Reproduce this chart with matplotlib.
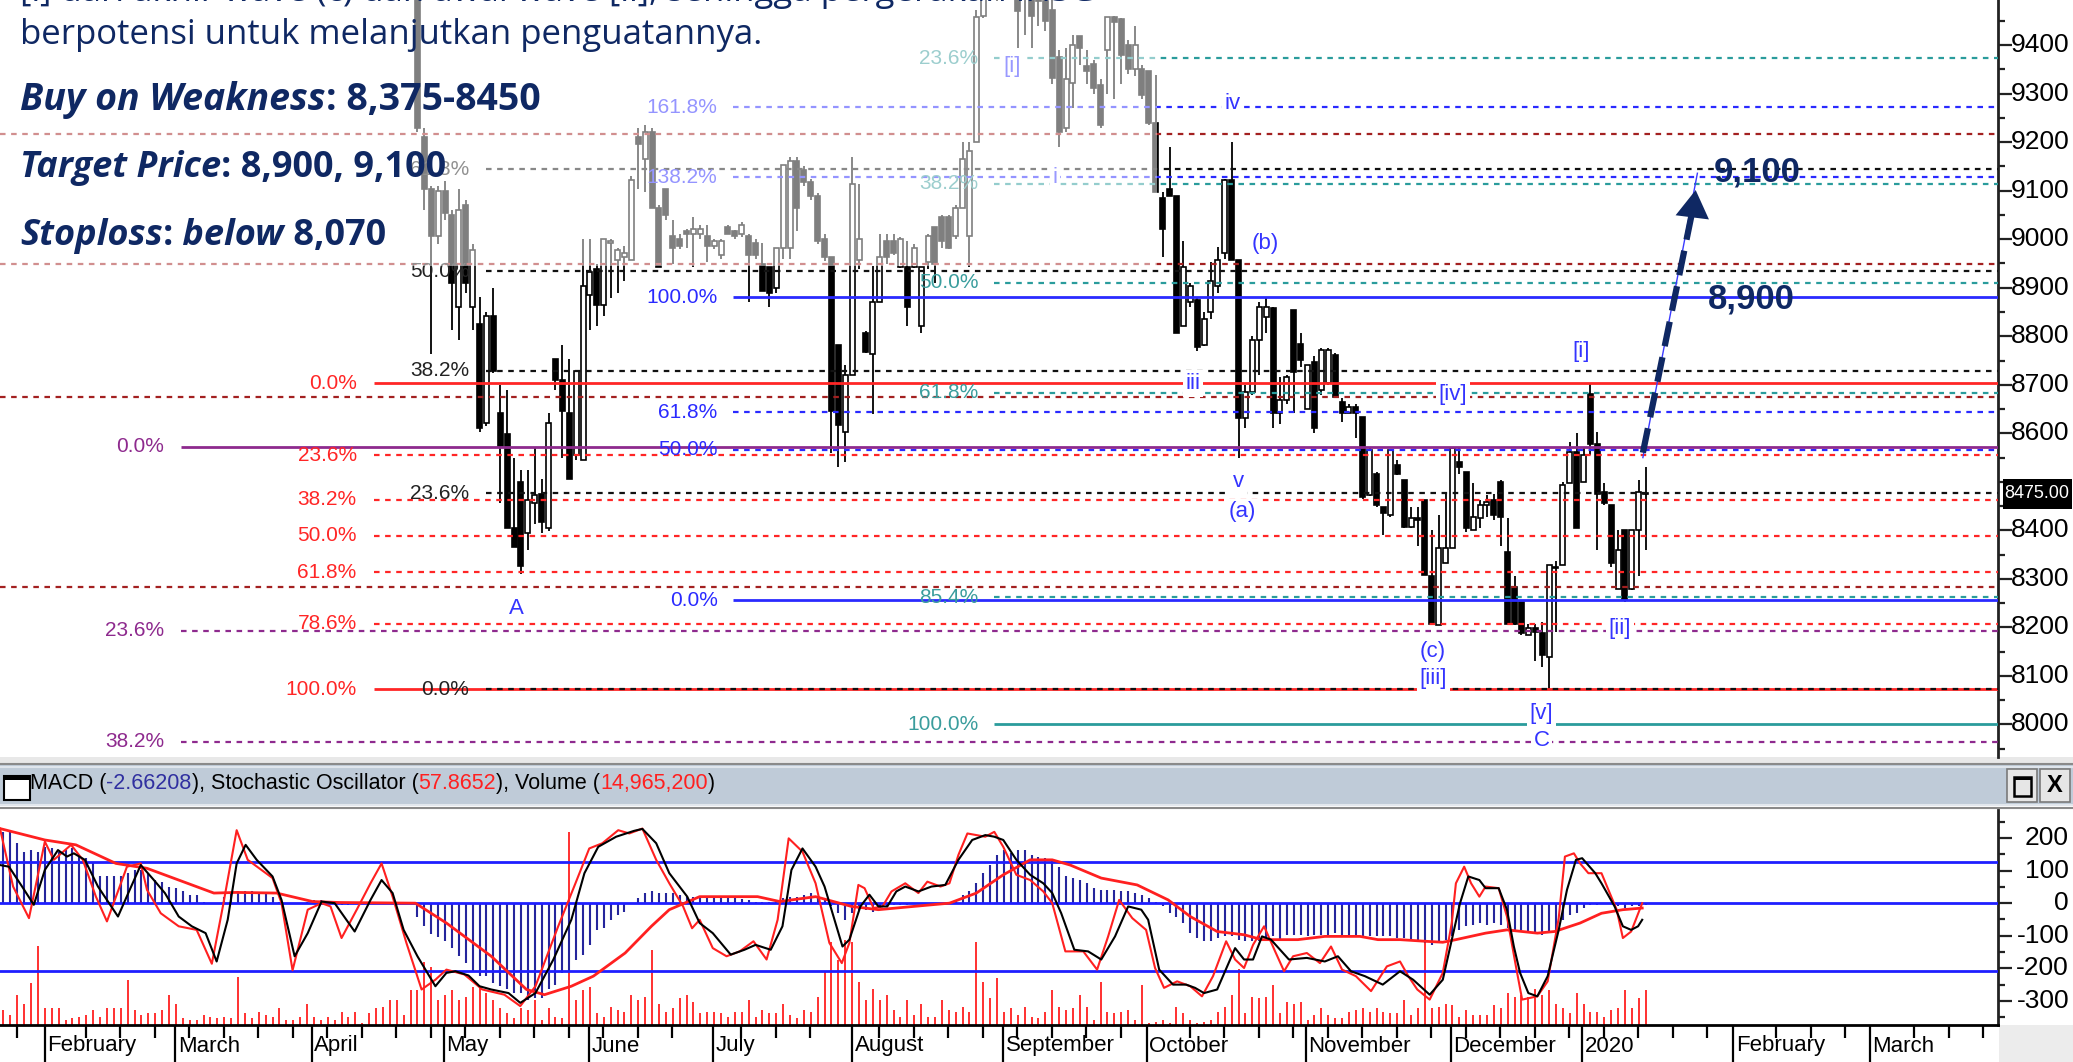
import matplotlib
matplotlib.use('Agg')
import matplotlib.pyplot as plt
from matplotlib.patches import Rectangle, FancyArrowPatch
from matplotlib.transforms import blended_transform_factory
import numpy as np

# ---------------- DATA ----------------
# daily candles (first candle is bar #60 of the chart)
CANDLE_START = 60
opens = [9560, 9210, 9103, 9006, 9100, 9050, 8860, 9070, 8860, 8826, 8622, 8841, 8642, 8598, 8404, 8500,
         8394, 8457, 8476, 8404, 8754, 8710, 8642, 8555, 8545, 8885, 8938, 8865, 8992, 8958, 8963, 8958,
         9210, 9166, 9220, 9065, 9103, 9006, 9001, 9016, 9011, 9011, 9006, 8987, 8968, 9026, 9016, 9011,
         9006, 8992, 8948, 8943, 8899, 8982, 8982, 9162, 9142, 9118, 9089, 9001, 8963, 8783,
         8603, 8720, 8958, 8807, 8763, 8870, 8997, 8997, 8943, 8943, 8943, 8822, 8953, 9026, 9045, 9045,
         9006, 9065, 9006, 9201, 9460, 9560, 9620, 9580, 9600, 9560, 9520, 9500, 9520, 9490, 9473, 9376,
         9230, 9322, 9419, 9356, 9361, 9317, 9390, 9458, 9453, 9400, 9351, 9351, 9346, 9240, 9084, 9103,
         9089, 8822, 8870, 8875, 8783, 8850, 8904, 8972, 9123, 8958, 8632, 8685, 8792, 8840,
         8858, 8641, 8669, 8854, 8785, 8651, 8748, 8689, 8703, 8761, 8665, 8641, 8655, 8634, 8473, 8517,
         8449, 8432, 8535, 8504, 8407, 8425, 8463, 8305, 8205, 8332, 8363, 8540, 8521, 8401, 8425, 8452,
         8463, 8500, 8356, 8284, 8253, 8184, 8198, 8188, 8140, 8322, 8329, 8497, 8562, 8500, 8682, 8579,
         8480, 8452, 8280, 8401, 8280, 8401, 8476]
highs = [9600, 9230, 9110, 9110, 9120, 9060, 9103, 9080, 8990, 8880, 8850, 8900, 8700, 8690, 8550, 8525,
         8525, 8569, 8506, 8642, 8754, 8783, 8754, 8729, 9001, 9001, 8948, 9001, 9001, 8982, 8987, 9130,
         9230, 9235, 9230, 9070, 9103, 9040, 9010, 9021, 9045, 9030, 9030, 9000, 9000, 9030, 9020, 9035,
         9011, 9000, 8992, 8943, 8982, 9152, 9170, 9170, 9150, 9125, 9095, 9010, 8963, 8783,
         8740, 9170, 9113, 8810, 8945, 9011, 9011, 9011, 9005, 8997, 8990, 8943, 9011, 9026, 9050, 9050,
         9070, 9201, 9201, 9473, 9600, 9650, 9680, 9640, 9660, 9600, 9560, 9540, 9560, 9520, 9500, 9390,
         9395, 9420, 9419, 9390, 9370, 9330, 9458, 9460, 9455, 9410, 9440, 9360, 9346, 9338, 9098, 9190,
         9089, 8997, 8910, 8880, 8850, 8953, 8985, 9125, 9201, 8958, 8700, 8800, 8870, 8880,
         8860, 8717, 8720, 8854, 8806, 8741, 8760, 8775, 8775, 8765, 8672, 8660, 8660, 8634, 8570, 8520,
         8449, 8566, 8545, 8504, 8449, 8449, 8463, 8401, 8432, 8480, 8569, 8569, 8521, 8497, 8463, 8473,
         8476, 8504, 8425, 8305, 8253, 8208, 8208, 8212, 8329, 8336, 8500, 8583, 8600, 8572, 8703, 8603,
         8497, 8452, 8401, 8401, 8401, 8504, 8531]
lows = [9220, 9060, 8763, 8990, 9040, 8812, 8792, 8890, 8812, 8602, 8615, 8724, 8457, 8404, 8365, 8311,
        8360, 8413, 8394, 8399, 8690, 8550, 8506, 8545, 8545, 8812, 8822, 8842, 8879, 8889, 8913, 8958,
        9103, 9098, 9065, 8943, 9040, 8948, 8980, 8982, 8943, 9000, 8953, 8980, 8960, 9011, 9000, 9005,
        8870, 8960, 8894, 8860, 8889, 8960, 8960, 9016, 9110, 9080, 8990, 8955, 8560, 8530,
        8540, 8720, 8939, 8765, 8640, 8870, 8948, 8967, 8940, 8822, 8940, 8807, 8938, 8909, 8982, 8980,
        9000, 9065, 8943, 9201, 9455, 9520, 9490, 9510, 9530, 9395, 9420, 9395, 9440, 9430, 9320, 9190,
        9220, 9270, 9360, 9320, 9300, 9230, 9300, 9290, 9320, 9340, 9337, 9290, 9235, 9098, 8963, 9089,
        8807, 8822, 8860, 8770, 8780, 8836, 8890, 8960, 8958, 8550, 8610, 8680, 8720, 8806,
        8610, 8620, 8660, 8641, 8737, 8651, 8600, 8680, 8700, 8675, 8624, 8641, 8590, 8465, 8470, 8448,
        8390, 8428, 8515, 8404, 8404, 8367, 8308, 8205, 8205, 8332, 8363, 8517, 8397, 8401, 8404, 8428,
        8421, 8367, 8208, 8205, 8184, 8184, 8130, 8119, 8073, 8191, 8329, 8497, 8404, 8500, 8555, 8360,
        8452, 8325, 8280, 8253, 8277, 8305, 8360]
closes = [9230, 9103, 9006, 9100, 9055, 8909, 9060, 8909, 8977, 8612, 8841, 8729, 8574, 8404, 8365, 8326,
          8462, 8472, 8418, 8622, 8710, 8647, 8506, 8729, 8904, 8933, 8865, 9001, 8997, 8977, 8972, 9123,
          9196, 9220, 9065, 8943, 9050, 8982, 8987, 9011, 9021, 9021, 8987, 8997, 8997, 9011, 9006, 9030,
          8968, 8968, 8894, 8889, 8982, 9152, 9162, 9065, 9118, 9089, 8997, 8963, 8647, 8617,
          8720, 9113, 9001, 8768, 8870, 8963, 8963, 8972, 9001, 8860, 8982, 8943, 9006, 8948, 8997, 8982,
          9065, 9166, 9181, 9458, 9560, 9620, 9580, 9600, 9560, 9470, 9500, 9460, 9490, 9450, 9332, 9220,
          9330, 9400, 9395, 9346, 9312, 9235, 9458, 9448, 9380, 9351, 9400, 9298, 9240, 9098, 9021, 9089,
          8807, 8943, 8904, 8778, 8836, 8914, 8958, 9123, 8958, 8632, 8685, 8792, 8860, 8861,
          8641, 8669, 8717, 8727, 8751, 8741, 8610, 8772, 8772, 8675, 8641, 8655, 8641, 8469, 8566, 8452,
          8435, 8566, 8517, 8407, 8425, 8421, 8308, 8208, 8363, 8363, 8569, 8530, 8404, 8428, 8452, 8459,
          8432, 8428, 8208, 8208, 8188, 8198, 8191, 8143, 8329, 8325, 8494, 8562, 8404, 8555, 8579, 8476,
          8456, 8332, 8360, 8256, 8401, 8480, 8475]
last_price = 8475.00

# Fibonacci tool levels (price) and their labels
red_fib_levels = [8703, 8555, 8463, 8389, 8314, 8208, 8073]
red_fib_labels = ['0.0%', '23.6%', '38.2%', '50.0%', '61.8%', '78.6%', '100.0%']
black_fib_levels = [8073, 8477, 8729, 8934, 9144]
black_fib_labels = ['0.0%', '23.6%', '38.2%', '50.0%', '61.8%']
blue_fib_levels = [8256, 8566, 8643, 8880, 9128, 9272]
blue_fib_labels = ['0.0%', '50.0%', '61.8%', '100.0%', '138.2%', '161.8%']
teal_fib_levels = [8000, 8262, 8684, 8910, 9114, 9373]
teal_fib_labels = ['100.0%', '85.4%', '61.8%', '50.0%', '38.2%', '23.6%']
purple_fib_levels = [8572, 8193, 7964]
purple_fib_labels = ['0.0%', '23.6%', '38.2%']
darkred_levels = [9217, 8948, 8675, 8283]

# indicator panel, one value per bar (bar 0 .. 238)
volume_h = [46, 31, 92, 66, 128, 243, 51, 51, 51, 15, 20, 26, 31, 46, 26, 51, 51, 51, 138, 46,
            31, 36, 36, 46, 92, 66, 20, 15, 15, 31, 26, 20, 26, 20, 148, 36, 20, 41, 31, 26,
            51, 15, 15, 26, 66, 26, 15, 26, 15, 41, 26, 41, 5, 36, 51, 56, 77, 77, 31, 107,
            107, 194, 179, 77, 92, 107, 77, 87, 117, 117, 97, 77, 51, 36, 20, 51, 46, 77, 15, 51,
            26, 20, 592, 77, 107, 117, 36, 26, 56, 46, 41, 92, 77, 87, 230, 66, 41, 51, 82, 92,
            71, 36,
            41, 41, 36, 26, 41, 41, 77, 26, 46, 36, 36, 66, 31, 20, 46, 41, 87, 163, 255, 199,
            260, 255, 133, 77, 112, 77, 92, 46, 26, 77, 31, 66, 26, 26, 77, 46, 41, 56, 41, 255,
            133, 82, 143, 41, 51, 31, 56, 26, 20, 41, 107, 56, 46, 51, 92, 56, 15, 133, 41, 36,
            41, 46, 15, 122, 5, 10, 15, 5, 56, 36, 15, 5, 10, 15, 41, 56, 92, 173, 36, 87,
            82, 87, 122, 36, 71, 66, 71, 15, 31, 51, 31, 20, 20, 41, 46, 51, 41, 51, 41, 36,
            36,
            77, 31, 51, 291, 51, 56, 66, 61, 26, 46, 31, 31, 31, 61, 51, 97, 87, 92, 87, 112,
            92, 107, 66, 51, 36, 97, 66, 41, 41, 26, 46, 51, 107, 51, 82, 107]
macd_hist = [219, 219, 184, 158, 163, 158, 173, 168, 158, 163, 168, 143, 138, 122, 82, 82, 82, 82, 92, 102,
             102, 92, 71, 66, 51, 46, 36, 26, 26, 5, 0, 0, 20, 31, 36, 36, 36, 31, 31, 20,
             5, 0, 0, 0, 5, 10, 10, 5, 5, -5, -5, 0, 0, 0, 0, 0, 0, 0, 0, 0,
             -41, -71, -95, -105, -117, -138, -163, -184, -209, -224, -224, -245, -255, -265, -276, -276, -296, -291, -291, -265,
             -250, -214, -209, -173, -158, -128, -82, -77, -51, -36, -26, 0, 15, 31, 36, 31, 31, 31, 26, 20,
             20, 15,
             15, 15, 15, 15, 15, 12, 10, 5, 5, 5, 5, 15, 20, 20, 26, 31, 20, 10, -10, -31,
             -51, -31, -20, -20, -26, -15, -10, -5, -5, -5, 0, 0, 0, 0, 0, 5, 10, 26, 36, 61,
             92, 117, 148, 163, 153, 163, 163, 148, 143, 138, 133, 112, 82, 77, 71, 61, 46, 41, 41, 41,
             36, 36, 31, 26, 15, 5, -10, -31, -41, -61, -92, -107, -117, -117, -107, -102, -102, -112, -117, -117,
             -117, -107, -102, -112, -97, -97, -97, -102, -97, -97, -97, -92, -97, -97, -97, -102, -102, -102, -102, -102,
             -107,
             -107, -112, -117, -122, -128, -117, -112, -102, -82, -71, -66, -61, -66, -61, -66, -77, -82, -82, -87, -92,
             -97, -92, -82, -51, -36, -31, -15, -5, -5, 0, 0, -10, -15, -10, -10, -5]

# indicator lines: (bar position, value)
signal_x = [0, 6.5, 11, 16.8, 21.3, 31, 34.3, 40.1, 45.3, 49.2, 60.2, 64.7, 71.2, 76.3, 78.9, 82.8, 86, 90.6,
            94.4, 97, 101.4, 109.8, 113, 118.2, 120.8, 123.4, 127.3, 132.4, 137.6, 141.5, 145.4, 149.3,
            152.5, 155.1, 159.6, 164.8, 169.3, 172.5, 176.4, 180.3, 182.9, 188.1, 192, 197.1, 199.7,
            202.9, 206.6, 209.1, 211, 215.3, 218.4, 222.8, 225.3, 229, 232.1, 235.2, 238]
signal_y = [229, 194, 179, 122, 107, 31, 33, 31, 5, 2, 0, -61, -163, -265, -281, -255, -224, -153,
            -71, -20, 20, 20, 5, 20, 5, -10, -20, -10, 0, 31, 87, 133,
            133, 117, 77, 56, 10, -41, -87, -97, -112, -112, -102, -102, -112,
            -112, -117, -120, -112, -92, -82, -92, -87, -61, -31, -20, -15]
stoch_d_x = [0, 1.3, 3.2, 4.9, 6.5, 8.4, 9.7, 10.7, 12.3, 14.2, 17.1, 18.8, 20.4, 22.3, 23.9, 25.9, 27.8,
             29.8, 31.4, 33, 34.3, 35.6, 37.2, 39.5, 40.8, 42.7, 44.6, 46.6, 48.5, 51.4, 53.7, 55.3, 56.9,
             58.5, 60.5, 63.1, 64.7, 66, 67.9, 69.5, 71.2, 73.7, 75.4, 77.6, 80.2, 82.8, 84.7, 86.7, 89.3,
             91.9, 93.1, 95.1, 97, 99.6, 101.4,
             103.3, 105.9, 107.9, 109.5, 111.7, 113.4, 114.7, 116.3, 118.2, 119.5, 120.8, 122.1, 123.1,
             124.7, 126, 127.3, 128.6, 129.9, 131.2, 133.1, 135, 137, 138.9, 140.9, 142.8, 144.1, 145.4,
             147.3, 149.3, 151.2, 152.5, 153.8, 155.7, 157.7, 159.6, 161.6, 163.5, 165.4, 166.4, 168, 170,
             171.9, 173.2, 174.5, 176.4, 179, 180.3, 181.6, 182.9, 184.2, 186.8, 189.4, 192, 193.9, 195.8,
             197.8, 200.4, 202.9,
             204.8, 207.2, 209.1, 210.4, 211.6, 212.8, 214.4, 215.3, 217.2, 218.4, 219.4, 220.3, 221.5,
             222.8, 224.3, 225.9, 227.1, 228.4, 229.3, 231.2, 232.1, 234, 235.2, 236.4, 237.4, 238]
stoch_d_y = [117, 112, 51, -5, 102, 163, 143, 153, 133, 51, -41, 41, 117, 71, 31, -41, -71,
             -92, -179, -51, 122, 179, 133, 82, 10, -163, -92, 5, 0, -87, 10, 71, 31,
             -82, -163, -255, -214, -209, -222, -255, -265, -276, -306, -276, -173, -51, 92, 173, 204,
             222, 228, 184, 92, 20, -61,
             -92, -158, -143, -128, -143, -71, 102, 168, 112, 51, -41, -133, -112,
             -10, 26, -10, -10, 36, 51, 36, 51, 56, 133, 194, 209, 204, 194,
             133, 87, 61, 31, -31, -143, -148, -173, -102, -10, -20, -51, -204, -250,
             -250, -260, -276, -265, -138, -173, -173, -102, -112, -173, -168, -179, -163, -209,
             -224, -250, -209,
             -235, -281, -235, -112, 0, 82, 71, 46, 46, -20, -133, -214, -276,
             -286, -224, -82, 41, 133, 138, 92, 61, -10, -71, -82, -71, -51]
stoch_k_x = [0, 1.9, 4.2, 6.5, 7.8, 10.3, 12, 13.9, 15.5, 18.4, 20.4, 21.3, 23.3, 25.9, 28.5, 30.7, 32.3,
             34.3, 35.9, 39.5, 40.8, 42.4, 44.6, 46.6, 47.9, 49.5, 51.7, 53.7, 55.3, 56.9, 58.9, 61.1, 63.1,
             64.7, 67.3, 69.9, 73.1, 75.4, 77.6, 80.9, 83.4, 85.4, 87.3, 89.6, 91.2, 93.1, 95.1, 97, 99,
             100.3, 101.4,
             103.3, 105.3, 107.2, 109.2, 111.1, 112.7, 114.3, 116.3, 118.2, 120.2, 122, 123.1, 124.4, 125.3,
             126.6, 127.9, 129.2, 131.2, 133.1, 134.4, 136.3, 137.6, 138.9, 140.2, 142.8, 144.1, 145.4,
             147.3, 149.3, 151.2, 152.5, 154.4, 157, 159, 160.6, 162.2, 164.1, 166.1, 167.4, 168.7, 170.6,
             172.5, 174.2, 175.8, 177.7, 179, 180.3, 181.6, 183.2, 184.8, 186.1, 187.4, 189.4, 191.3,
             192.9, 194.5, 196.5, 198.7, 201, 202.9,
             204.1, 205.4, 207.2, 209.1, 210.4, 211, 212.2, 213.2, 214.4, 215.3, 217.2, 218.4, 219.7,
             220.6, 222.8, 224.3, 225.9, 226.8, 228.1, 229, 230.2, 232.1, 233.3, 234.3, 235.2, 236.4, 238]
stoch_k_y = [229, 51, -46, 189, 133, 179, 133, 20, -56, 112, 122, 41, -31, -71, -82, -186, -10,
             224, 133, 77, 0, -206, -20, 0, -10, -107, -20, 61, 122, 20, -122, -265, -235,
             -204, -219, -265, -281, -316, -255, -71, 61, 168, 184, 224, 214, 229, 133, 61, -10,
             -77, -51,
             -138, -163, -148, -117, -173, -51, 199, 158, 61, -122, -184, -122, 56, 46,
             -15, -10, 36, 61, 31, 66, 51, 61, 148, 214, 204, 219, 173,
             87, 71, 36, 0, -148, -148, -204, -102, 10, -46, -82, -199, -260, -240,
             -255, -286, -224, -117, -173, -199, -128, -71, -148, -209, -163, -153, -184,
             -133, -204, -224, -270, -194, -179,
             -224, -265, -296, -214, -61, 61, 112, 61, 20, 51, 46, -41, -194,
             -296, -286, -240, -46, 143, 153, 122, 92, 92, 31, -20, -107, -87, 0]
osc_levels = [127, 0, -209]

month_labels = ['February', 'March', 'April', 'May', 'June', 'July', 'August', 'September',
                'October', 'November', 'December', '2020', 'February', 'March']

# ---------------- LAYOUT / STYLE ----------------
W, H = 2073, 1062
PXBAR = 6.9
XMAX = 1998 / PXBAR
month_pos = [6.46, 25.4, 45.2, 64.3, 85.4, 103.3, 123.5, 145.4, 166.2, 189.3, 210.3, 229.3, 251.2, 271.0]

NARROW = ['Liberation Sans Narrow', 'Liberation Sans', 'DejaVu Sans']
SANS = ['Open Sans', 'Noto Sans', 'DejaVu Sans']
NAVY = '#0f2863'
RED = '#ff2626'
DKRED = '#a32020'
BLUE = '#2a2aff'
TEAL = '#2a9c9c'
TEAL_T = '#3a9d9d'
PURPLE = '#8e2a8e'
WAVE = '#3434ff'
DOT = (0, (2.5, 2.5))


def fx(px):
    return px / W


def fy(py):
    return 1 - py / H


fig = plt.figure(figsize=(W / 100, H / 100), dpi=100)
fig.patch.set_facecolor('white')

# window chrome drawn first (behind the axes' labels)
fig.add_artist(Rectangle((0, fy(765)), 1, 8 / H, transform=fig.transFigure, facecolor='#e8e8e8',
                         edgecolor='none', zorder=-2))
fig.add_artist(Rectangle((0, fy(806)), 1, 41 / H, transform=fig.transFigure, facecolor='#bfcbd8',
                         edgecolor='none', zorder=-2))
for yy, cc in ((764, '#8a8a8a'), (767, '#dfe5ec'), (805, '#e2e7ed'), (808, '#8a8a8a')):
    fig.add_artist(plt.Line2D([0, 1], [fy(yy), fy(yy)], transform=fig.transFigure, color=cc, lw=1.5,
                              zorder=-1.5))
fig.add_artist(Rectangle((fx(1999), 0), 1 - fx(1999), 37 / H, transform=fig.transFigure,
                         facecolor='#ececec', edgecolor='none', zorder=-2))
# icon
fig.add_artist(Rectangle((fx(4), fy(800)), 26 / W, 24 / H, transform=fig.transFigure, facecolor='white',
                         edgecolor='black', lw=1.5, zorder=-1))
fig.add_artist(Rectangle((fx(4), fy(780)), 26 / W, 4 / H, transform=fig.transFigure, facecolor='black',
                         edgecolor='none', zorder=-1))
# buttons
for bx in (2007, 2040):
    fig.add_artist(Rectangle((fx(bx), fy(802)), 30 / W, 33 / H, transform=fig.transFigure,
                             facecolor='#e6e6e6', edgecolor='#7a7a7a', lw=1.2, zorder=-1))
fig.add_artist(Rectangle((fx(2014), fy(796)), 17 / W, 19 / H, transform=fig.transFigure, facecolor='none',
                         edgecolor='black', lw=1.8, zorder=-0.9))
fig.add_artist(Rectangle((fx(2014), fy(780)), 17 / W, 3 / H, transform=fig.transFigure, facecolor='black',
                         edgecolor='none', zorder=-0.9))
fig.text(fx(2055), fy(786), 'X', ha='center', va='center', fontsize=17, fontweight='bold',
         family=['Liberation Sans', 'DejaVu Sans'], zorder=1)

ax = fig.add_axes([0, fy(757), fx(1998), 757 / H])
ax.set_xlim(0, XMAX)
ax.set_ylim(7933, 9493)
ax2 = fig.add_axes([0, fy(1025), fx(1998), (1025 - 810) / H])
ax2.set_xlim(0, XMAX)
ax2.set_ylim(-374, 286)

for a in (ax, ax2):
    a.set_facecolor('white')
    for s in ('top', 'left'):
        a.spines[s].set_visible(False)
    a.spines['right'].set_linewidth(2)
    a.spines['right'].set_color('#222222')
ax.spines['bottom'].set_visible(False)
ax2.spines['bottom'].set_linewidth(2)

# ---- main price axis
ax.set_xticks([])
ax.yaxis.tick_right()
ax.set_yticks(np.arange(8000, 9401, 100))
ax.set_yticks(np.arange(7950, 9451, 100), minor=True)
ax.tick_params(axis='y', which='major', length=10, width=1.6, labelright=False, color='#222222')
ax.tick_params(axis='y', which='minor', length=5, width=1.6, color='#222222')
trm = blended_transform_factory(fig.transFigure, ax.transData)
for v in range(8000, 9401, 100):
    if v == 8500:   # hidden behind the last-price marker
        continue
    ax.text(fx(2069), v, str(v), transform=trm, ha='right', va='center', fontsize=19, family=NARROW,
            clip_on=False)
# last-price marker
ax.add_patch(Rectangle((fx(2003), last_price - 31), fx(69), 62, transform=trm, facecolor='black',
                       edgecolor='none', clip_on=False, zorder=19))
ax.text(fx(2037), last_price, f'{last_price:.2f}', transform=trm, ha='center', va='center', fontsize=13,
        family=NARROW, color='white', zorder=20, clip_on=False)

# ---- candles
xc = CANDLE_START + np.arange(len(opens)) + 0.5
for x, o, h, l, c in zip(xc, opens, highs, lows, closes):
    ax.vlines(x, l, h, color='black', lw=1.3, zorder=2)
    up = c >= o
    ax.add_patch(Rectangle((x - 0.36, min(o, c)), 0.72, max(abs(c - o), 1.5),
                           facecolor='white' if up else 'black', edgecolor='black', lw=1.2, zorder=2.1))

# ---- fibonacci lines
fib_sets = [
    (red_fib_levels, red_fib_labels, RED, RED, 54.2, 51.7, {0, 6}),
    (black_fib_levels, black_fib_labels, '#111111', '#222222', 70.5, 68.0, set()),
    (blue_fib_levels, blue_fib_labels, BLUE, BLUE, 106.3, 104.0, {0, 3}),
    (teal_fib_levels, teal_fib_labels, TEAL, TEAL_T, 144.0, 141.8, {0}),
    (purple_fib_levels, purple_fib_labels, PURPLE, PURPLE, 26.2, 23.8, {0}),
]
for levels, labels, col, tcol, start, lab_x, solid in fib_sets:
    for i, (lv, lb) in enumerate(zip(levels, labels)):
        ls = '-' if i in solid else DOT
        lw = 2.0 if i in solid else 1.6
        ax.hlines(lv, start, XMAX, colors=col, linestyles=ls, lw=lw, zorder=3)
        ax.text(lab_x, lv, lb, ha='right', va='center', fontsize=15, family=NARROW, color=tcol, zorder=3.5)
for lv in darkred_levels:
    ax.hlines(lv, 0, XMAX, colors=DKRED, linestyles=DOT, lw=1.6, zorder=3)

# ---- wave labels
wave_marks = [('A', 74.9, 8238), ('[i]', 146.7, 9355), ('iv', 178.7, 9280), ('i', 152.9, 9128),
              ('iii', 172.9, 8703), ('(b)', 183.3, 8991), ('v', 179.5, 8500), ('(a)', 180.1, 8438),
              ('[iv]', 210.6, 8681), ('[i]', 229.2, 8768), ('(c)', 207.7, 8150), ('[iii]', 207.7, 8095),
              ('[ii]', 234.8, 8198), ('[v]', 223.4, 8023), ('C', 223.4, 7967)]
for s, x, y in wave_marks:
    ax.text(x, y, s, ha='center', va='center', fontsize=16, family=NARROW, color=WAVE, zorder=4,
            bbox=dict(boxstyle='square,pad=0.12', facecolor='white', edgecolor='none'))

# ---- translucent box behind the commentary
ax.add_patch(Rectangle((0, 8945), 167.7, 800, facecolor='white', edgecolor='none', alpha=0.5, zorder=5))

# ---- target arrow and labels
ax.plot([238.1, 246.0], [8550, 9136], color='#3a3aff', lw=1.0, zorder=6)
ax.plot([238.1, 245.3], [8560, 9060], color=NAVY, lw=4.5, linestyle=(0, (4, 1.8)), zorder=6.5,
        solid_capstyle='butt', dash_capstyle='butt')
ax.add_patch(FancyArrowPatch((245.3, 9050), (245.8, 9107), arrowstyle='-|>,head_length=0.9,head_width=0.55',
                             mutation_scale=22, color=NAVY, lw=0, zorder=6.6))
ax.text(248.3, 9138, '9,100', ha='left', va='center', fontsize=25, fontweight='bold',
        family=['Liberation Sans', 'DejaVu Sans'], color=NAVY, zorder=7)
ax.text(247.5, 8877, '8,900', ha='left', va='center', fontsize=25, fontweight='bold',
        family=['Liberation Sans', 'DejaVu Sans'], color=NAVY, zorder=7)

# ---- indicator panel
xb = np.arange(len(volume_h)) + 0.5
ax2.vlines(xb, -374, -374 + np.array(volume_h), color='#ff2020', lw=1.3, zorder=1)
ax2.vlines(xb, 0, macd_hist, color='#25259c', lw=1.5, zorder=2)
for lv in osc_levels:
    ax2.axhline(lv, color='#1e1eff', lw=2, zorder=3)
ax2.plot(signal_x, signal_y, color='#ff2020', lw=2, zorder=4)
ax2.plot(stoch_k_x, stoch_k_y, color='#ff2020', lw=1.5, zorder=5)
ax2.plot(stoch_d_x, stoch_d_y, color='black', lw=1.5, zorder=6)

ax2.yaxis.tick_right()
ax2.set_yticks(np.arange(-300, 201, 100))
ax2.set_yticks(np.arange(-350, 251, 100), minor=True)
ax2.tick_params(axis='y', which='major', length=10, width=1.6, labelright=False, color='#222222')
ax2.tick_params(axis='y', which='minor', length=5, width=1.6, color='#222222')
trl = blended_transform_factory(fig.transFigure, ax2.transData)
for v in range(-300, 201, 100):
    ax2.text(fx(2069), v, str(v), transform=trl, ha='right', va='center', fontsize=19, family=NARROW,
             clip_on=False)

ax2.set_xticks(month_pos)
minor_pos = [p for p in np.arange(2.4, XMAX, 5.0) if min(abs(p - m) for m in month_pos) > 1.5]
ax2.set_xticks(minor_pos, minor=True)
ax2.tick_params(axis='x', which='major', length=27, width=1.6, labelbottom=False, direction='out')
ax2.tick_params(axis='x', which='minor', length=9, width=1.6, direction='out')
trx = blended_transform_factory(ax2.transData, fig.transFigure)
for m, lb in zip(month_pos, month_labels):
    ax2.text(m + 0.35, fy(1046), lb, transform=trx, ha='left', va='center', fontsize=16, family=NARROW,
             clip_on=False)

renderer = fig.canvas.get_renderer()


def rich(x_px, base_px, pieces, **common):
    x = x_px
    for s, kw in pieces:
        t = fig.text(fx(x), fy(base_px), s, ha='left', va='baseline', zorder=10, **common, **kw)
        x += t.get_window_extent(renderer=renderer).width


# indicator title
rich(30, 789, [('MACD (', {'color': 'black'}), ('-2.66208', {'color': '#3030a0'}),
               ('), Stochastic Oscillator (', {'color': 'black'}), ('57.8652', {'color': '#ff2020'}),
               ('), Volume (', {'color': 'black'}), ('14,965,200', {'color': '#ff2020'}),
               (')', {'color': 'black'})], fontsize=15.5, family=NARROW)

# commentary text
BI = {'fontweight': 'bold', 'fontstyle': 'italic'}
B = {'fontweight': 'bold'}
rich(20, 1, [('[i] dari akhir wave (c) dan awal wave [ii], sehingga pergerakan IHSG', {})],
     fontsize=25, family=SANS, color=NAVY)
rich(20, 44, [('berpotensi untuk melanjutkan penguatannya.', {})], fontsize=25, family=SANS, color=NAVY)
rich(20, 110, [('Buy on Weakness', BI), (': 8,375-8450', B)], fontsize=27, family=SANS, color=NAVY)
rich(20, 177, [('Target Price', BI), (': 8,900, 9,100', B)], fontsize=26, family=SANS, color=NAVY)
rich(20, 245, [('Stoploss', BI), (':', B), (' below', BI), (' 8,070', B)], fontsize=26, family=SANS, color=NAVY)

fig.savefig('out.png', dpi=100, facecolor='white')
